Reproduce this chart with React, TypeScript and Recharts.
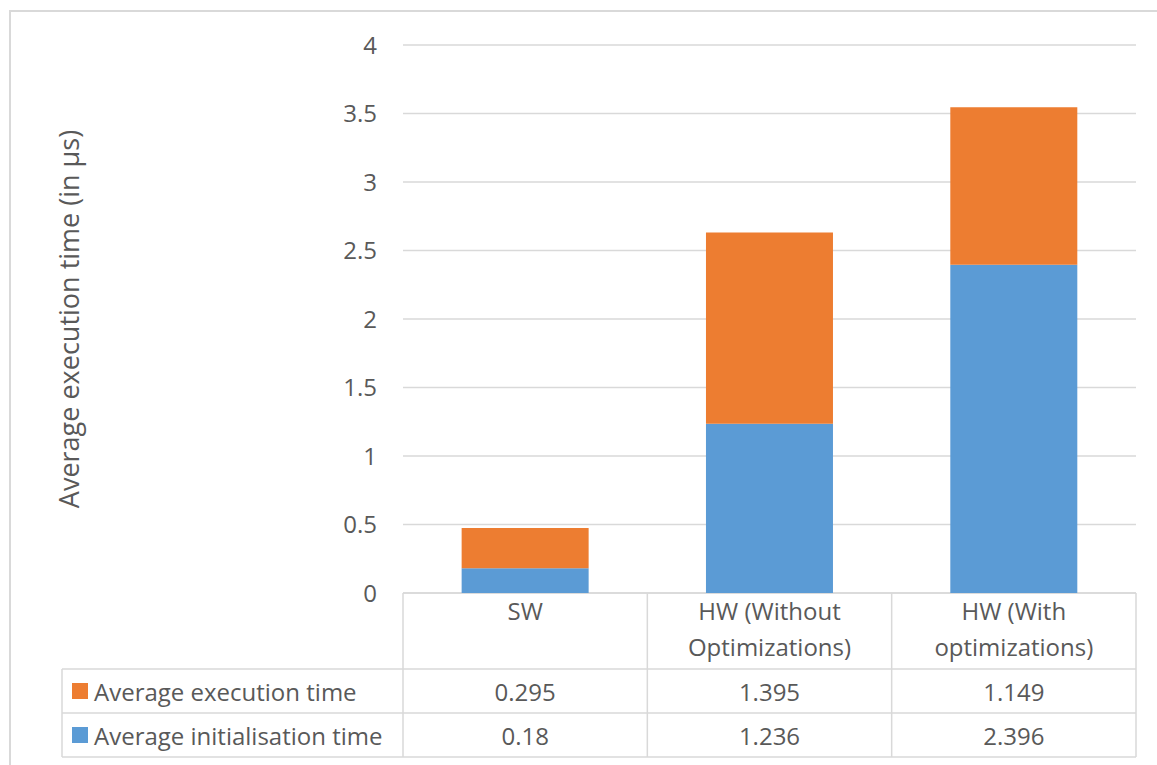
import React from "react";
import { BarChart, Bar, XAxis, YAxis, CartesianGrid, Customized } from "recharts";

const categories = ["SW", "HW (Without Optimizations)", "HW (With optimizations)"];
const headerLines = [["SW"], ["HW (Without", "Optimizations)"], ["HW (With", "optimizations)"]];
const initTime = [0.18, 1.236, 2.396];
const execTime = [0.295, 1.395, 1.149];
const yTicks = [0, 0.5, 1, 1.5, 2, 2.5, 3, 3.5, 4];
const seriesNames = { exec: "Average execution time", init: "Average initialisation time" };
const yTitle = "Average execution time (in µs)";

const data = categories.map((name, i) => ({ name, init: initTime[i], exec: execTime[i] }));

const W = 1157;
const H = 765;
const margin = { top: 45, right: 21, bottom: 0, left: 40 };
const yAxisWidth = 363;
const xAxisHeight = 172;
const plotLeft = margin.left + yAxisWidth;
const plotRight = W - margin.right;
const plotBottom = H - margin.bottom - xAxisHeight;
const bandW = (plotRight - plotLeft) / categories.length;

// table rows, relative to the axis line
const headerH = 76;
const rowH = 44;
const legendLeft = 62;

const textColor = "#595959";
const gridColor = "#d9d9d9";
const orange = "#ed7d31";
const blue = "#5b9bd5";
const font = "'Open Sans', sans-serif";
const fontSize = 24;

function TableCell(props: any) {
  const { x, y, index } = props;
  const lines = headerLines[index] || [];
  return (
    <g fill={textColor} fontFamily={font} fontSize={fontSize}>
      {lines.map((l, j) => (
        <text key={j} x={x} y={y + 17 + j * 36} textAnchor="middle" dominantBaseline="central">
          {l}
        </text>
      ))}
      <text x={x} y={y + headerH + rowH / 2} textAnchor="middle" dominantBaseline="central">
        {String(execTime[index])}
      </text>
      <text x={x} y={y + headerH + rowH * 1.5} textAnchor="middle" dominantBaseline="central">
        {String(initTime[index])}
      </text>
    </g>
  );
}

function TableFrame() {
  const r1 = plotBottom + headerH;
  const r2 = r1 + rowH;
  const r3 = r2 + rowH;
  const cols = categories.map((_, i) => plotLeft + i * bandW).concat([plotRight]);
  const midY = (margin.top + plotBottom) / 2;
  return (
    <g stroke={gridColor} strokeWidth={1.5}>
      <line x1={plotLeft} x2={plotRight} y1={plotBottom} y2={plotBottom} />
      {[r1, r2, r3].map((yy) => (
        <line key={yy} x1={legendLeft} x2={plotRight} y1={yy} y2={yy} />
      ))}
      <line x1={legendLeft} x2={legendLeft} y1={r1} y2={r3} />
      {cols.map((cx) => (
        <line key={cx} x1={cx} x2={cx} y1={plotBottom} y2={r3} />
      ))}
      <g stroke="none" fontFamily={font} fontSize={fontSize} fill={textColor}>
        <rect x={72} y={r1 + rowH / 2 - 8} width={16} height={16} fill={orange} />
        <text x={94} y={r1 + rowH / 2} dominantBaseline="central">{seriesNames.exec}</text>
        <rect x={72} y={r2 + rowH / 2 - 8} width={16} height={16} fill={blue} />
        <text x={94} y={r2 + rowH / 2} dominantBaseline="central">{seriesNames.init}</text>
        <text
          x={68}
          y={midY}
          fontSize={27}
          textAnchor="middle"
          dominantBaseline="central"
          transform={`rotate(-90 68 ${midY})`}
        >
          {yTitle}
        </text>
      </g>
    </g>
  );
}

export default function App() {
  return (
    <div style={{ position: "fixed", left: 0, top: 0, width: W, height: H, overflow: "hidden", background: "#fff" }}>
      <div
        style={{
          position: "absolute",
          left: 9,
          top: 10,
          width: W + 50,
          height: H + 50,
          border: `2px solid ${gridColor}`,
          boxSizing: "border-box",
        }}
      />
      <div style={{ position: "absolute", left: 0, top: 0 }}>
        <BarChart width={W} height={H} data={data} margin={margin} barCategoryGap="24%">
          <CartesianGrid horizontal vertical={false} stroke={gridColor} strokeWidth={1.5} />
          <XAxis
            dataKey="name"
            height={xAxisHeight}
            axisLine={false}
            tickLine={false}
            tickSize={0}
            tickMargin={0}
            interval={0}
            tick={TableCell}
          />
          <YAxis
            width={yAxisWidth}
            domain={[0, 4]}
            ticks={yTicks}
            axisLine={false}
            tickLine={false}
            tickSize={0}
            tickMargin={26}
            tick={{ fill: textColor, fontSize, fontFamily: font }}
          />
          <Bar dataKey="init" name={seriesNames.init} stackId="a" fill={blue} isAnimationActive={false} />
          <Bar dataKey="exec" name={seriesNames.exec} stackId="a" fill={orange} isAnimationActive={false} />
          <Customized component={TableFrame} />
        </BarChart>
      </div>
    </div>
  );
}
